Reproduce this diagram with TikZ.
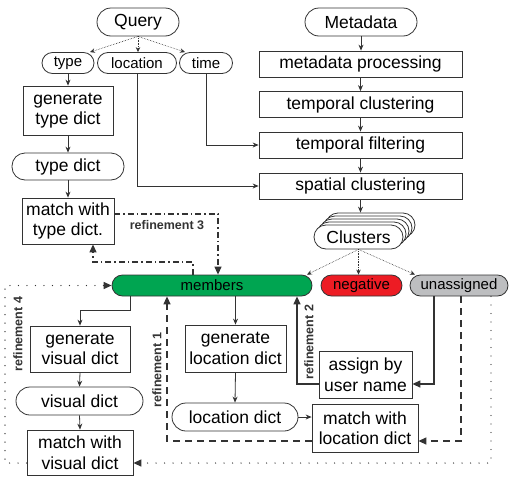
\documentclass[tikz,border=0pt]{standalone}
\usepackage{fontspec}
\setmainfont{Liberation Sans}
\usetikzlibrary{arrows.meta,calc}
\definecolor{ink}{HTML}{333333}
\definecolor{memgreen}{HTML}{00A551}
\definecolor{negred}{HTML}{ED1C24}
\definecolor{unagrey}{HTML}{BDBEC0}
\tikzset{
  base/.style={draw=ink, line width=0.8pt, inner sep=0pt, align=center, text=black},
  bigtext/.style={font=\fontsize{17.5}{20.5}\selectfont},
  smalltext/.style={font=\fontsize{15}{18}\selectfont},
  box/.style={base, bigtext, rectangle},
  pill/.style={base, bigtext, rectangle, rounded corners=13pt},
  tag/.style={base, smalltext, rectangle, rounded corners=10.5pt, minimum height=21pt},
  flow/.style={draw=ink, line width=0.8pt, -{Stealth[length=6pt,width=5pt]}},
  fine/.style={draw=ink, line width=0.6pt, densely dotted, -{Stealth[length=5pt,width=4.5pt]}},
  bigtip/.style={-{Triangle[length=8pt,width=7pt]}},
  refsolid/.style={draw=ink, line width=1.3pt, bigtip},
  refdash/.style={draw=ink, line width=1.3pt, dash pattern=on 7pt off 5pt, bigtip},
  refdashdot/.style={draw=ink, line width=1.2pt, dash pattern=on 6pt off 3pt on 1.5pt off 3pt, bigtip},
  refdot/.style={draw=ink, line width=1.3pt, line cap=round, dash pattern=on 0pt off 8.5pt, bigtip},
  reflabel/.style={font=\fontsize{12.5}{14}\selectfont\bfseries, text=ink, inner sep=0pt}
}
\begin{document}
\begin{tikzpicture}[x=1pt,y=-1pt]
\useasboundingbox (0,0) rectangle (509,477);

% query branch
\node[pill, minimum width=82pt, minimum height=28pt, rounded corners=14pt] (q) at (138,22) {Query};
\node[tag, minimum width=52pt] (type) at (68,63) {type};
\node[tag, minimum width=79pt] (loc) at (137,63) {location};
\node[tag, minimum width=53pt] (time) at (206,63) {time};
\node[box, minimum width=90pt, minimum height=49pt] (gentype) at (68,110.5) {generate\\type dict};
\node[pill, minimum width=112pt, minimum height=27pt] (typedict) at (68,166.5) {type dict};
\node[box, minimum width=92pt, minimum height=46pt] (matchtype) at (68,221) {match with\\type dict.};

% metadata pipeline
\node[pill, minimum width=112pt, minimum height=28pt, rounded corners=14pt] (md) at (361,22) {Metadata};
\node[box, minimum width=203pt, minimum height=26pt] (mdproc) at (360.5,64) {metadata processing};
\node[box, minimum width=203pt, minimum height=26pt] (tclust) at (360.5,104.5) {temporal clustering};
\node[box, minimum width=203pt, minimum height=26pt] (tfilt) at (360.5,145) {temporal filtering};
\node[box, minimum width=203pt, minimum height=26pt] (sclust) at (360.5,186) {spatial clustering};

% stacked clusters
\foreach \k in {4,3,2,1}{
  \node[pill, fill=white, minimum width=89pt, minimum height=24pt, rounded corners=12pt] (c\k) at (358.5+3*\k,237-3*\k) {};
}
\node[pill, fill=white, minimum width=89pt, minimum height=24pt, rounded corners=12pt] (cl) at (358.5,237) {Clusters};

% cluster categories
\node[tag, fill=memgreen, minimum width=200pt] (mem) at (212,285.5) {members};
\node[tag, fill=negred, minimum width=81pt] (neg) at (361.5,285.5) {negative};
\node[tag, fill=unagrey, minimum width=98pt] (una) at (459,285.5) {unassigned};

% visual branch
\node[box, minimum width=100pt, minimum height=46pt] (genvis) at (80,349) {generate\\visual dict};
\node[pill, minimum width=127pt, minimum height=28pt, rounded corners=14pt] (visdict) at (79.5,401) {visual dict};
\node[box, minimum width=106pt, minimum height=45pt] (matchvis) at (80,452.5) {match with\\visual dict};

% location branch
\node[box, minimum width=101pt, minimum height=47pt] (genloc) at (235.5,348.5) {generate\\location dict};
\node[pill, minimum width=126pt, minimum height=28pt, rounded corners=14pt] (locdict) at (235,417) {location dict};
\node[box, minimum width=106pt, minimum height=48pt] (matchloc) at (365,428) {match with\\location dict};
\node[box, minimum width=93pt, minimum height=47pt] (assign) at (365.5,374.5) {assign by\\user name};

% bends of the connectors
\coordinate (r3a) at (218,214);
\coordinate (r3b) at (193,262);
\coordinate (r3c) at (93,262);
\coordinate (mv) at (130,310);
\coordinate (r1) at (167,441);
\coordinate (ud) at (461,441);
\coordinate (ua) at (434,384);
\coordinate (r2) at (297,384);
\coordinate (r4a) at (491,463);
\coordinate (r4b) at (5,463);
\coordinate (r4c) at (5,285.5);

% query split
\draw[fine] (q.south) -- ([xshift=22pt]type.north);
\draw[fine] (q.south) -- (q.south |- loc.north);
\draw[fine] (q.south) -- ([xshift=-21pt]time.north);
\draw[flow] (type.south) -- (gentype.north);
\draw[flow] (gentype.south) -- (typedict.north);
\draw[flow] (typedict.south) -- (matchtype.north);
\draw[flow] (time.south) |- (tfilt.west);
\draw[flow] (loc.south) |- (sclust.west);

% metadata pipeline
\draw[flow] (md.south) -- (md.south |- mdproc.north);
\draw[flow] (mdproc.south) -- (tclust.north);
\draw[flow] (tclust.south) -- (tfilt.north);
\draw[flow] (tfilt.south) -- (sclust.north);
\draw[flow] (sclust.south) -- (sclust.south |- c4.north);

% clusters split
\draw[fine] (cl.south) -- ([xshift=95pt]mem.north);
\draw[fine] (cl.south) -- (cl.south |- neg.north);
\draw[fine] (cl.south) -- ([xshift=-44pt]una.north);

% refinement 3
\draw[refdashdot] (matchtype.east |- r3a) -- (r3a) -- (mem.north -| r3a);
\draw[refdashdot] (mem.north -| r3b) -- (r3b) -- (r3c) -- (matchtype.south -| r3c);
\node[reflabel] (l3) at (167,225) {refinement 3};

% visual branch
\draw[flow] (mem.south -| mv) -- (mv) -| (genvis.north);
\draw[flow] (genvis.south) -- (visdict.north);
\draw[flow] (visdict.south) -- (matchvis.north);

% location branch
\draw[flow] (mem.south -| genloc.north) -- (genloc.north);
\draw[flow] (genloc.south) -- (locdict.north);
\draw[flow] (locdict.east) -- (matchloc.west |- locdict.east);

% refinement 1
\draw[refdash] (matchloc.west |- r1) -- (r1) -- (mem.south -| r1);
\node[reflabel, rotate=90] (l1) at (157,370) {refinement 1};
\draw[refdash] (una.south -| ud) -- (ud) -- (matchloc.east |- ud);

% refinement 2
\draw[refsolid, -{Triangle[length=8pt,width=7pt]}] (una.south -| ua) -- (ua) -- (assign.east |- ua);
\draw[refsolid] (assign.west |- r2) -- (r2) -- (mem.south -| r2);
\node[reflabel, rotate=90] (l2) at (309,342) {refinement 2};

% refinement 4
\draw[refdot] (una.south -| r4a) -- (r4a) -- (matchvis.east |- r4a);
\draw[refdot] (matchvis.west |- r4b) -- (r4b) -- (r4c) -- (mem.west);
\node[reflabel, rotate=90] (l4) at (18,334) {refinement 4};
\end{tikzpicture}
\end{document}
